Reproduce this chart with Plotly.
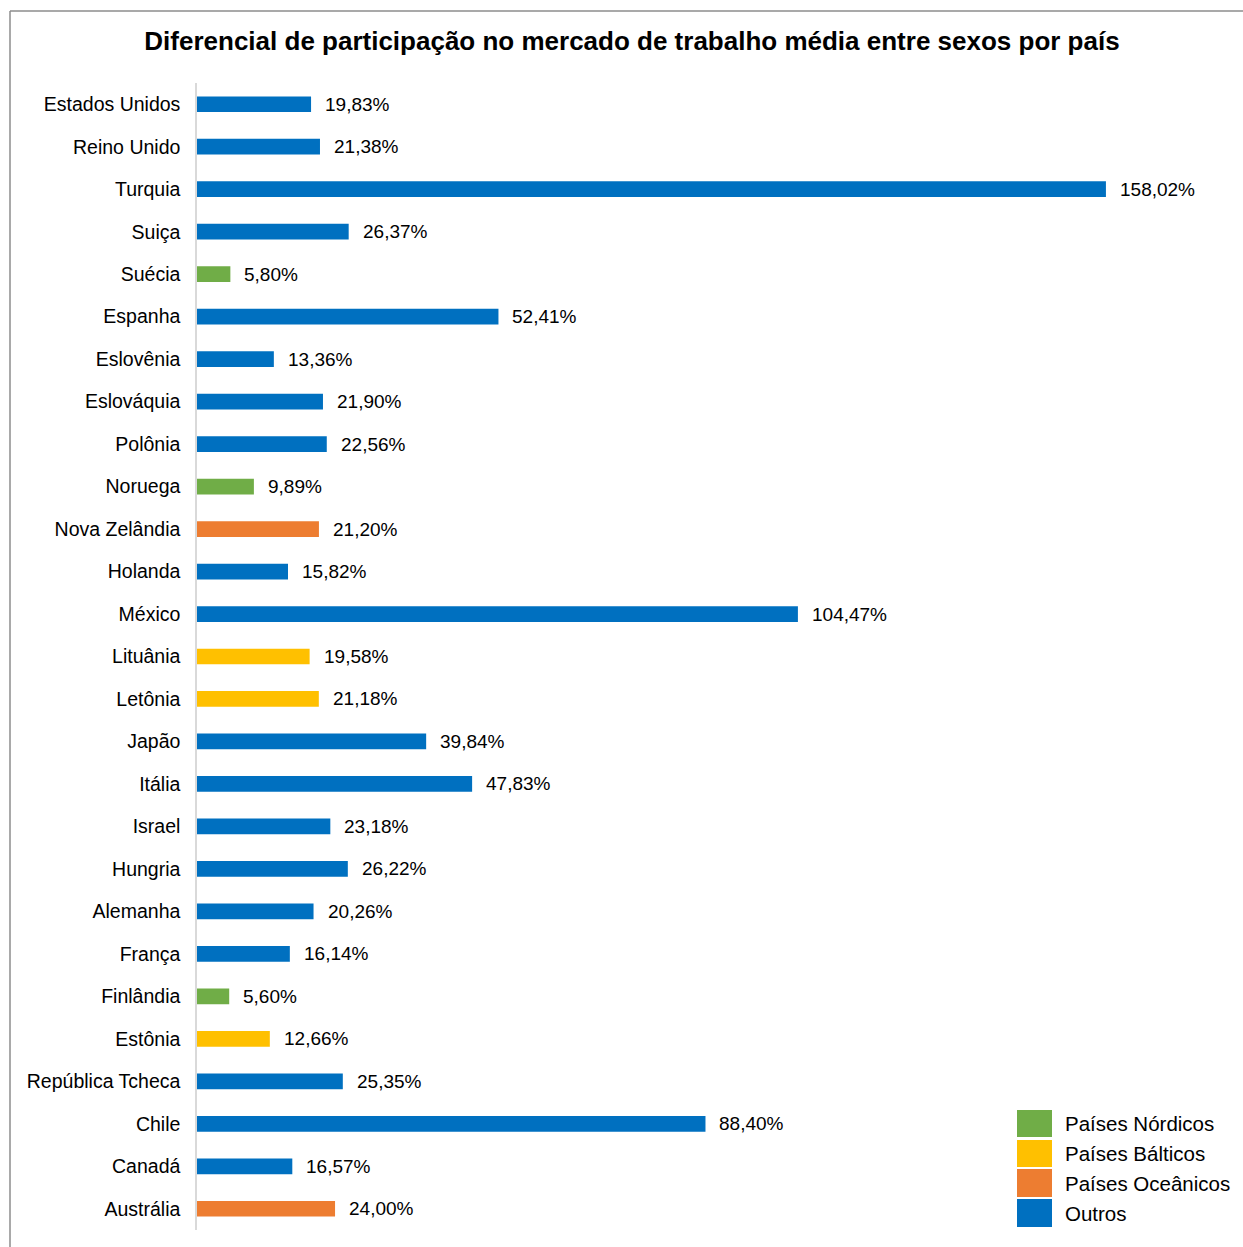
import plotly.graph_objects as go

# Countries, top to bottom as drawn
countries = [
    "Estados Unidos", "Reino Unido", "Turquia", "Suiça", "Suécia", "Espanha",
    "Eslovênia", "Eslováquia", "Polônia", "Noruega", "Nova Zelândia", "Holanda",
    "México", "Lituânia", "Letônia", "Japão", "Itália", "Israel", "Hungria",
    "Alemanha", "França", "Finlândia", "Estônia", "República Tcheca", "Chile",
    "Canadá", "Austrália",
]
gap_pct = [
    19.83, 21.38, 158.02, 26.37, 5.80, 52.41,
    13.36, 21.90, 22.56, 9.89, 21.20, 15.82,
    104.47, 19.58, 21.18, 39.84, 47.83, 23.18, 26.22,
    20.26, 16.14, 5.60, 12.66, 25.35, 88.40,
    16.57, 24.00,
]
groups = [
    "Outros", "Outros", "Outros", "Outros", "Países Nórdicos", "Outros",
    "Outros", "Outros", "Outros", "Países Nórdicos", "Países Oceânicos", "Outros",
    "Outros", "Países Bálticos", "Países Bálticos", "Outros", "Outros", "Outros", "Outros",
    "Outros", "Outros", "Países Nórdicos", "Países Bálticos", "Outros", "Outros",
    "Outros", "Países Oceânicos",
]
legend_order = ["Países Nórdicos", "Países Bálticos", "Países Oceânicos", "Outros"]
group_colors = {
    "Países Nórdicos": "#70AD47",
    "Países Bálticos": "#FFC000",
    "Países Oceânicos": "#ED7D31",
    "Outros": "#0070C0",
}

FONT = "Liberation Sans, Arial, sans-serif"
W, H = 1243, 1247
ML, MR, MT, MB = 197, 40, 83, 17
PW = W - ML - MR
PH = H - MT - MB
PX_PER_UNIT = 5.752


def px_x(px):
    return (px - ML) / PW


def px_y(py):
    return 1 - (py - MT) / PH


def fmt(v):
    return f"{v:.2f}".replace(".", ",") + "%"


fig = go.Figure()
fig.add_trace(go.Bar(
    x=gap_pct,
    y=countries,
    orientation="h",
    width=0.37,
    marker=dict(color=[group_colors[g] for g in groups], line=dict(width=0)),
    showlegend=False,
    hoverinfo="x+y",
))

annotations = []
for c, v in zip(countries, gap_pct):
    annotations.append(dict(
        x=v, y=c, xref="x", yref="y", text=fmt(v), showarrow=False,
        xanchor="left", yanchor="middle", xshift=12,
        font=dict(family=FONT, size=19, color="#000000"),
    ))

shapes = [
    # chart frame (top and left edges)
    dict(type="line", xref="paper", yref="paper",
         x0=px_x(10), x1=px_x(W + 5), y0=px_y(11), y1=px_y(11),
         line=dict(color="#8C8C8C", width=1.5)),
    dict(type="line", xref="paper", yref="paper",
         x0=px_x(10), x1=px_x(10), y0=px_y(11), y1=px_y(H + 5),
         line=dict(color="#8C8C8C", width=1.5)),
]

# legend drawn as swatches + labels
legend_rows = [(1110, 1137), (1140, 1167), (1169, 1197), (1199, 1227)]
for name, (y0, y1) in zip(legend_order, legend_rows):
    shapes.append(dict(
        type="rect", xref="paper", yref="paper",
        x0=px_x(1017), x1=px_x(1052), y0=px_y(y1), y1=px_y(y0),
        fillcolor=group_colors[name], line=dict(width=0),
    ))
    annotations.append(dict(
        x=px_x(1063), y=px_y((y0 + y1) / 2), xref="paper", yref="paper",
        text=name, showarrow=False, xanchor="left", yanchor="middle",
        font=dict(family=FONT, size=20.5, color="#000000"),
    ))

fig.update_layout(
    width=W, height=H,
    margin=dict(l=ML, r=MR, t=MT, b=MB, pad=0),
    paper_bgcolor="white", plot_bgcolor="white",
    title=dict(
        text="<b>Diferencial de participação no mercado de trabalho média entre sexos por país</b>",
        x=632 / W, xanchor="center", xref="container",
        y=1 - 41 / H, yanchor="middle", yref="container",
        font=dict(family=FONT, size=26, color="#000000"),
    ),
    xaxis=dict(
        range=[0, PW / PX_PER_UNIT], showgrid=False, zeroline=False,
        showticklabels=False, showline=False, ticks="",
    ),
    yaxis=dict(
        autorange="reversed", type="category", showgrid=False, zeroline=False,
        showline=True, linecolor="#D9D9D9", linewidth=1.5, ticks="",
        ticklabelstandoff=11,
        tickfont=dict(family=FONT, size=19.5, color="#000000"),
    ),
    bargap=0.63,
    shapes=shapes,
    annotations=annotations,
)

fig.write_html("out.html")
